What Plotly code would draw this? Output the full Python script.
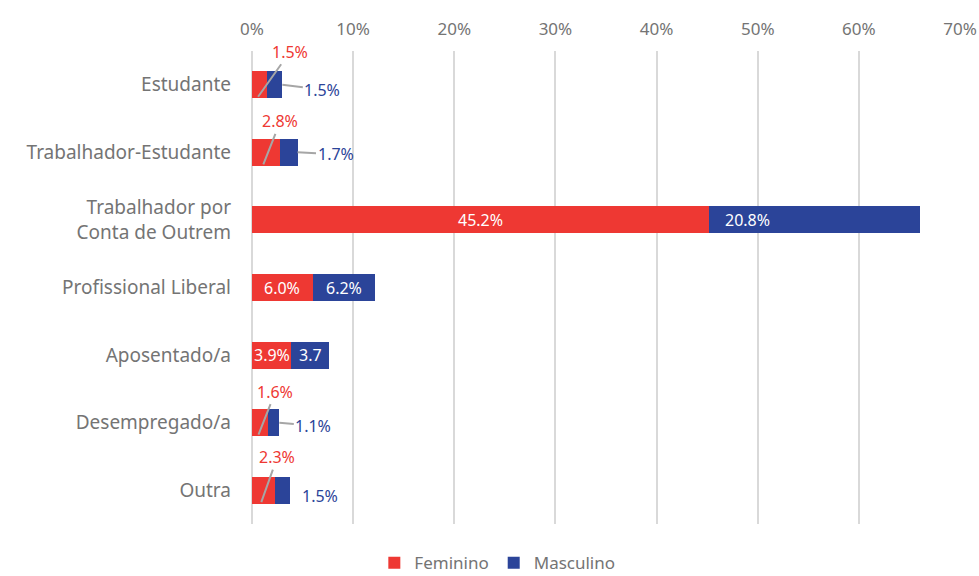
import plotly.graph_objects as go

# Situação profissional por género (% do total de respondentes)
categorias = [
    "Estudante",
    "Trabalhador-Estudante",
    "Trabalhador por<br>Conta de Outrem",
    "Profissional Liberal",
    "Aposentado/a",
    "Desempregado/a",
    "Outra",
]
feminino = [1.5, 2.8, 45.2, 6.0, 3.9, 1.6, 2.3]
masculino = [1.5, 1.7, 20.8, 6.2, 3.7, 1.1, 1.5]
rotulos_fem = ["1.5%", "2.8%", "45.2%", "6.0%", "3.9%", "1.6%", "2.3%"]
rotulos_masc = ["1.5%", "1.7%", "20.8%", "6.2%", "3.7", "1.1%", "1.5%"]
ticks_x = [0, 10, 20, 30, 40, 50, 60, 70]
ticks_x_txt = ["0%", "10%", "20%", "30%", "40%", "50%", "60%", "70%"]

COR_FEM = "#EE3833"
COR_MASC = "#2B4499"
COR_TEXTO = "#747474"
COR_GUIA = "#a6a6a6"
FONTE = "Noto Sans"

fig = go.Figure()
fig.add_trace(go.Bar(
    y=categorias, x=feminino, name="Feminino", orientation="h",
    marker=dict(color=COR_FEM, line=dict(width=0)), hoverinfo="x+y",
))
fig.add_trace(go.Bar(
    y=categorias, x=masculino, name="Masculino", orientation="h",
    marker=dict(color=COR_MASC, line=dict(width=0)), hoverinfo="x+y",
))

# Rótulos: dentro da barra quando há espaço, fora com linha guia quando não há
fora = [True, True, False, False, False, True, True]
# deslocamentos (px) dos rótulos exteriores
desl_fem = [(32, -45), (17, -43), None, None, None, (17, -43), (16, -45)]
desl_masc = [(40, 5), (38, 2), None, None, None, (34, 3), None]

anot = []
for i, cat in enumerate(categorias):
    f, m = feminino[i], masculino[i]
    if fora[i]:
        ax, ay = desl_fem[i]
        anot.append(dict(
            x=f * 0.4, y=cat, yshift=-12, text=rotulos_fem[i],
            showarrow=True, arrowhead=0, arrowwidth=2, arrowcolor=COR_GUIA,
            ax=ax, ay=ay, standoff=0,
            font=dict(color=COR_FEM, size=16, family=FONTE),
        ))
        if desl_masc[i] is not None:
            ax, ay = desl_masc[i]
            anot.append(dict(
                x=f + m, y=cat, text=rotulos_masc[i],
                showarrow=True, arrowhead=0, arrowwidth=2, arrowcolor=COR_GUIA,
                ax=ax, ay=ay, standoff=0,
                font=dict(color=COR_MASC, size=16, family=FONTE),
            ))
        else:
            anot.append(dict(
                x=f + m, y=cat, text=rotulos_masc[i], showarrow=False,
                xanchor="center", xshift=30, yshift=-6,
                font=dict(color=COR_MASC, size=16, family=FONTE),
            ))
    else:
        anot.append(dict(
            x=f / 2, y=cat, text=rotulos_fem[i], showarrow=False,
            font=dict(color="white", size=16, family=FONTE),
        ))
        # rótulo masculino da barra maior fica junto ao início do segmento
        xm = f + m / 2 if m < 10 else f + 3.8
        anot.append(dict(
            x=xm, y=cat, text=rotulos_masc[i], showarrow=False,
            font=dict(color="white", size=16, family=FONTE),
        ))

fig.update_layout(
    width=979, height=576,
    barmode="stack", bargap=0.6,
    plot_bgcolor="white", paper_bgcolor="white",
    margin=dict(l=252, r=19, t=51, b=52, autoexpand=False),
    font=dict(family=FONTE, color=COR_TEXTO, size=16),
    annotations=anot,
    legend=dict(
        orientation="h", xref="container", yref="paper",
        x=0.508, xanchor="center", y=-0.083, yanchor="middle",
        font=dict(size=17, color=COR_TEXTO, family=FONTE),
        itemwidth=30, traceorder="normal",
    ),
    showlegend=True,
)
fig.update_xaxes(
    side="top", range=[0, 70], tickvals=ticks_x, ticktext=ticks_x_txt,
    showgrid=True, gridcolor="#d9d9d9", gridwidth=2,
    zeroline=True, zerolinecolor="#d9d9d9", zerolinewidth=2,
    showline=False, ticks="", ticklabelstandoff=12, automargin=False,
    tickfont=dict(size=17, color=COR_TEXTO), fixedrange=True,
)
fig.update_yaxes(
    categoryorder="array", categoryarray=categorias,
    range=[len(categorias) - 0.5, -0.5],
    showgrid=False, showline=False, ticks="", ticklabelstandoff=20,
    automargin=False,
    tickfont=dict(size=19, color=COR_TEXTO), fixedrange=True,
)

fig.write_html("out.html")
